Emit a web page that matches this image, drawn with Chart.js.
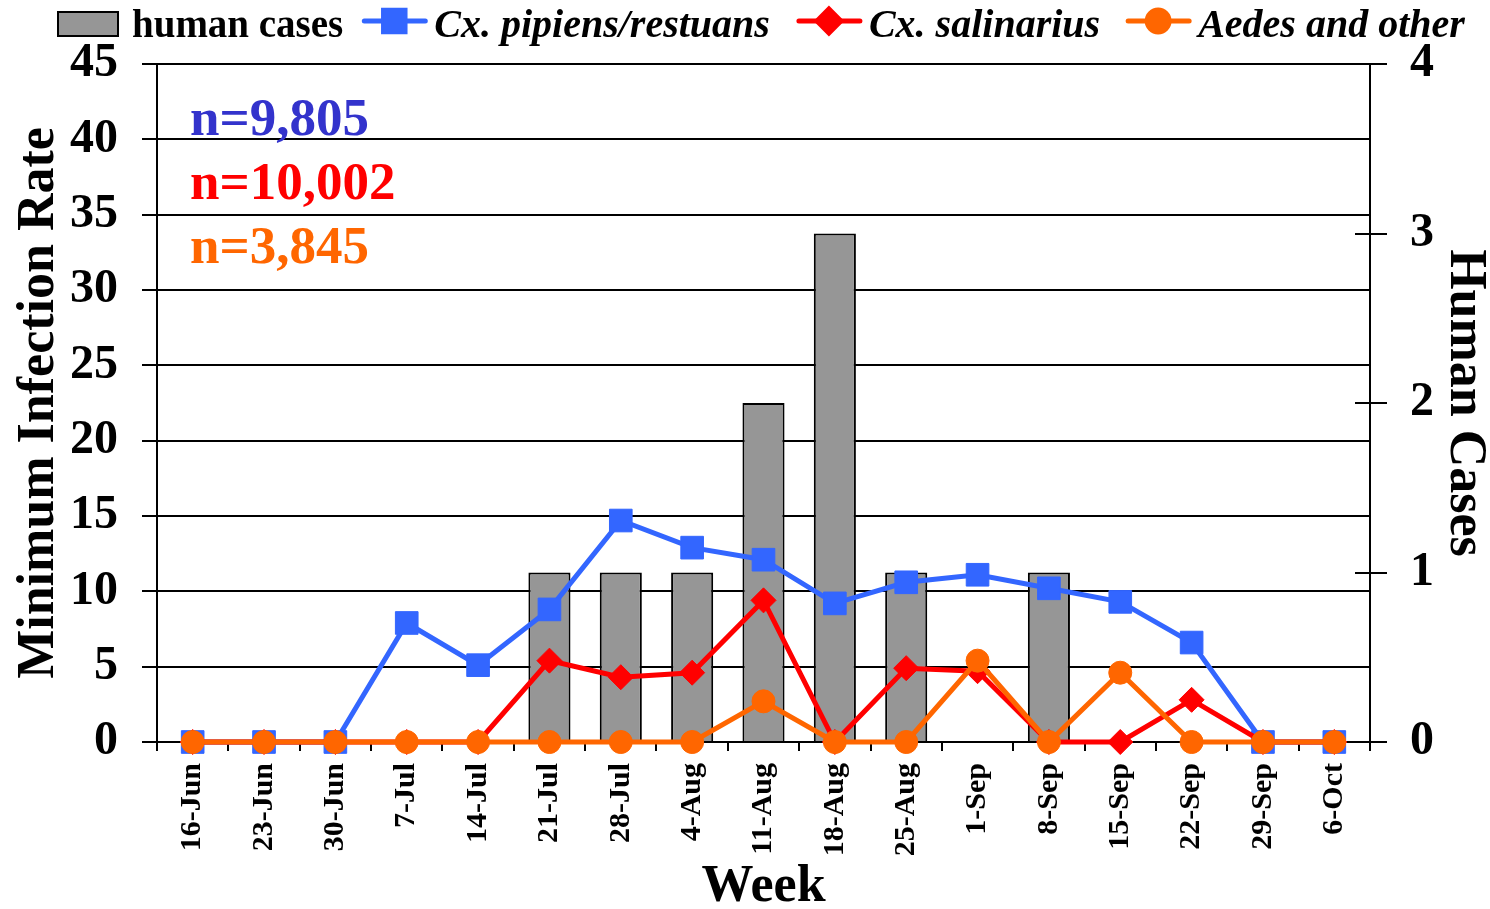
<!DOCTYPE html>
<html>
<head>
<meta charset="utf-8">
<script src="https://cdn.jsdelivr.net/npm/chart.js@4/dist/chart.umd.min.js"></script>
<style>
  html, body { margin: 0; padding: 0; background: #fff; }
  #wrap { width: 1490px; height: 909px; position: relative; }
</style>
</head>
<body>
<div id="wrap"><canvas id="c" width="1490" height="909"></canvas></div>
<script>
// ---- data ----
const weeks = ['16-Jun','23-Jun','30-Jun','7-Jul','14-Jul','21-Jul','28-Jul','4-Aug','11-Aug','18-Aug','25-Aug','1-Sep','8-Sep','15-Sep','22-Sep','29-Sep','6-Oct'];
const humanCases      = [0,0,0,0,0,1,1,1,2,3,1,0,1,0,0,0,0];
const pipiensRestuans = [0,0,0,7.9,5.1,8.8,14.7,12.9,12.1,9.2,10.6,11.1,10.2,9.3,6.6,0,0];
const salinarius      = [0,0,0,0,0,5.4,4.3,4.6,9.4,0,4.9,4.7,0,0,2.8,0,0];
const aedesOther      = [0,0,0,0,0,0,0,0,2.7,0,0,5.4,0,4.6,0,0,0];
const seriesLabels = ['human cases','Cx. pipiens/restuans','Cx. salinarius','Aedes and other'];
const sampleSizes  = ['n=9,805','n=10,002','n=3,845'];
const mirRange   = [0, 45, 5];   // min, max, step (left axis)
const casesRange = [0, 4, 1];    // min, max, step (right axis)

const FONT = '"Liberation Serif", "Times New Roman", serif';
const BLUE = '#3366ff', RED = '#ff0000', ORANGE = '#ff6600', GRAY = '#969696';

// custom legend (mixed upright / italic labels, line+marker symbols)
const topLegend = {
  id: 'topLegend',
  afterDraw(chart) {
    const ctx = chart.ctx;
    ctx.save();
    let x = 58;
    const cy = 24;
    const metas = chart.data.datasets;
    const gaps = [19, 27, 26, 0];
    metas.forEach((ds, i) => {
      if (ds.type === 'bar') {
        ctx.fillStyle = ds.backgroundColor;
        ctx.strokeStyle = '#000';
        ctx.lineWidth = 2;
        ctx.fillRect(x, cy - 12, 60, 24);
        ctx.strokeRect(x, cy - 12, 60, 24);
        x += 60 + 14;
        ctx.font = 'bold 39px ' + FONT;
      } else {
        ctx.strokeStyle = ds.borderColor;
        ctx.lineWidth = 5;
        ctx.lineCap = 'round';
        ctx.beginPath();
        ctx.moveTo(x + 2, cy - 3); ctx.lineTo(x + 63, cy - 3);
        ctx.stroke();
        Chart.helpers.drawPoint(ctx, {pointStyle: ds.pointStyle, radius: ds.pointRadius * 0.95, borderWidth: 1, rotation: 0}, x + 32, cy - 3);
        ctx.fillStyle = ds.borderColor;
        ctx.fill();
        x += 65 + 7;
        ctx.font = 'italic bold 40px ' + FONT;
      }
      ctx.fillStyle = '#000';
      ctx.textBaseline = 'alphabetic';
      ctx.textAlign = 'left';
      ctx.fillText(ds.label, x, 37);
      x += ctx.measureText(ds.label).width + gaps[i];
    });
    ctx.restore();
  }
};

// sample size annotations + inner tick marks of right axis
const extras = {
  id: 'extras',
  afterDraw(chart) {
    const ctx = chart.ctx;
    const a = chart.chartArea;
    ctx.save();
    ctx.font = 'bold 53px ' + FONT;
    ctx.textAlign = 'left';
    ctx.textBaseline = 'alphabetic';
    const cols = ['#3333cc', RED, ORANGE];
    sampleSizes.forEach((t, i) => {
      ctx.fillStyle = cols[i];
      ctx.fillText(t, a.left + 33, 135 + i * 64);
    });
    const s = chart.scales.y1;
    ctx.strokeStyle = '#000';
    ctx.lineWidth = 2;
    s.ticks.forEach(tk => {
      const y = Math.round(s.getPixelForValue(tk.value));
      ctx.beginPath();
      ctx.moveTo(a.right - 15, y); ctx.lineTo(a.right, y);
      ctx.stroke();
    });
    ctx.restore();
  }
};

const tickFont = {family: FONT, weight: 'bold', size: 48};
const titleFont = {family: FONT, weight: 'bold', size: 52, lineHeight: 1};

new Chart(document.getElementById('c'), {
  data: {
    labels: weeks,
    datasets: [
      { type: 'bar', label: seriesLabels[0], data: humanCases, yAxisID: 'y1', order: 4,
        backgroundColor: GRAY, borderColor: '#000', borderWidth: 2,
        barPercentage: 0.59, categoryPercentage: 1 },
      { type: 'line', label: seriesLabels[1], data: pipiensRestuans, yAxisID: 'y', order: 3,
        borderColor: BLUE, backgroundColor: BLUE, borderWidth: 5, pointStyle: 'rect',
        pointRadius: 16, pointBorderWidth: 1, pointBackgroundColor: BLUE, pointBorderColor: BLUE,
        tension: 0, clip: false },
      { type: 'line', label: seriesLabels[2], data: salinarius, yAxisID: 'y', order: 2,
        borderColor: RED, backgroundColor: RED, borderWidth: 5, pointStyle: 'rectRot',
        pointRadius: 12.5, pointBorderWidth: 1, pointBackgroundColor: RED, pointBorderColor: RED,
        tension: 0, clip: false },
      { type: 'line', label: seriesLabels[3], data: aedesOther, yAxisID: 'y', order: 1,
        borderColor: ORANGE, backgroundColor: ORANGE, borderWidth: 5, pointStyle: 'circle',
        pointRadius: 11.5, pointBorderWidth: 1, pointBackgroundColor: ORANGE, pointBorderColor: ORANGE,
        tension: 0, clip: false }
    ]
  },
  options: {
    responsive: false,
    animation: false,
    devicePixelRatio: 1,
    layout: { padding: { top: 64, left: 0, right: 0, bottom: 0 } },
    plugins: { legend: { display: false }, tooltip: { enabled: false } },
    scales: {
      x: {
        offset: true,
        grid: { offset: true, drawOnChartArea: false, color: '#000', lineWidth: 2, tickLength: 9 },
        border: { color: '#000', width: 2 },
        ticks: { minRotation: 90, maxRotation: 90, autoSkip: false, color: '#000', padding: 12,
                 font: {family: FONT, weight: 'bold', size: 30} },
        title: { display: true, text: 'Week', color: '#000', font: titleFont, padding: {top: 0, bottom: -5} },
        afterFit: s => { s.height = 167; }
      },
      y: {
        position: 'left', min: mirRange[0], max: mirRange[1],
        ticks: { stepSize: mirRange[2], color: '#000', font: tickFont, padding: 24 },
        grid: { color: '#000', lineWidth: 2, tickLength: 15 },
        border: { color: '#000', width: 2 },
        title: { display: true, text: 'Minimum Infection Rate', color: '#000', font: titleFont, padding: {top: 14, bottom: 0} },
        afterFit: s => { s.width = 157; }
      },
      y1: {
        position: 'right', min: casesRange[0], max: casesRange[1],
        ticks: { stepSize: casesRange[2], color: '#000', font: tickFont, padding: 23 },
        grid: { drawOnChartArea: false, color: '#000', lineWidth: 2, tickLength: 17 },
        border: { color: '#000', width: 2 },
        title: { display: true, text: 'Human Cases', color: '#000', font: titleFont, padding: {top: 0, bottom: 0} },
        afterFit: s => { s.width = 120; }
      }
    }
  },
  plugins: [topLegend, extras]
});
</script>
</body>
</html>
